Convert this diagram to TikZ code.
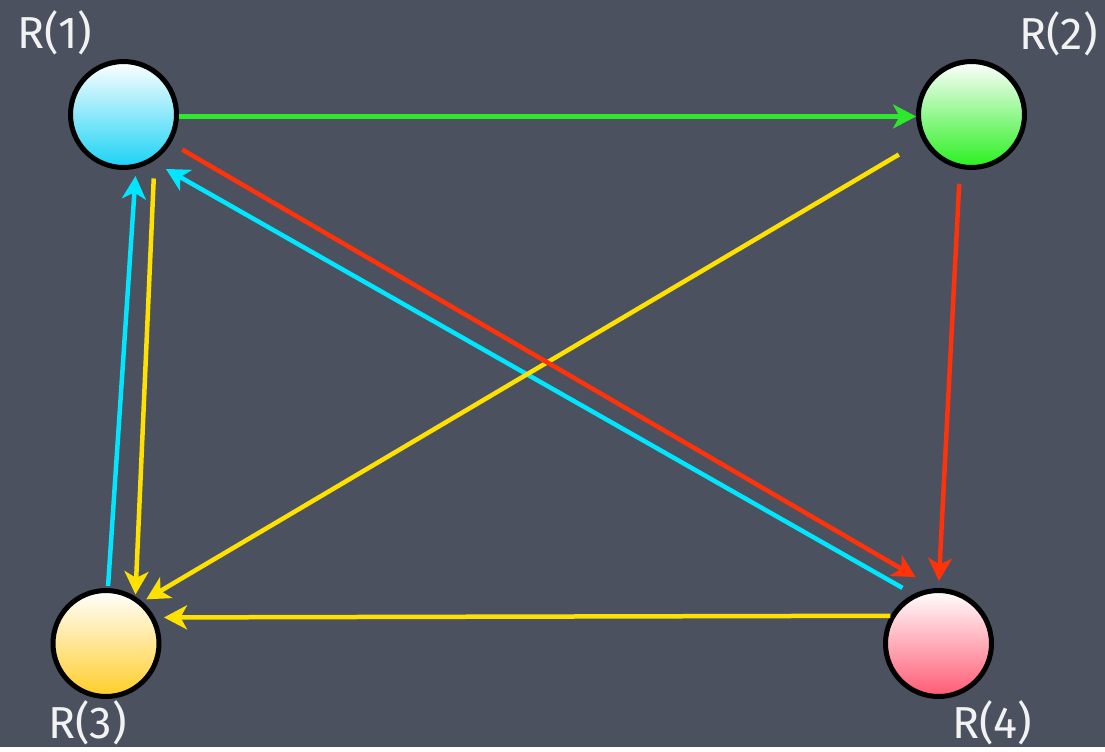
\documentclass[tikz,border=0pt]{standalone}
\usepackage{fontspec}
\setmainfont{Fira Sans}
\usetikzlibrary{arrows.meta}
\definecolor{board}{RGB}{76,81,95}
\definecolor{chalk}{RGB}{242,242,242}
\definecolor{linkG}{RGB}{45,232,45}
\definecolor{linkY}{RGB}{255,225,0}
\definecolor{linkR}{RGB}{255,50,10}
\definecolor{linkC}{RGB}{0,230,255}
\definecolor{routerA}{RGB}{25,210,245}
\definecolor{routerB}{RGB}{40,240,30}
\definecolor{routerC}{RGB}{255,205,40}
\definecolor{routerD}{RGB}{255,90,115}

\begin{document}
\begin{tikzpicture}[x=0.02cm, y=-0.02cm,
    router/.style={circle, draw=black, line width=0.1cm, minimum size=2.12cm, inner sep=0pt},
    tag/.style={text=chalk, font=\fontsize{25.5}{28}\selectfont},
    link/.style={line width=0.09cm, -{Stealth[length=4.6mm, width=4.8mm, inset=1.3mm]}}]

  % Chalkboard background
  \fill[board] (0,0) rectangle (1105,747);

  % Routers
  \node[router, top color=white, bottom color=routerA] (r1) at (123.5,114.5) {};
  \node[router, top color=white, bottom color=routerB] (r2) at (971.5,114.5) {};
  \node[router, top color=white, bottom color=routerC] (r3) at (106,643.5) {};
  \node[router, top color=white, bottom color=routerD] (r4) at (938.5,643.5) {};

  % Router names
  \node[tag] (t1) at (55,33) {R(1)};
  \node[tag] (t2) at (1058.5,34) {R(2)};
  \node[tag] (t3) at (87.5,723) {R(3)};
  \node[tag] (t4) at (992.5,722.5) {R(4)};

  % Cyan links
  \draw[link, linkC, shorten <=0.25cm, shorten >=0.3cm] (r4.117.4) -- (r1.-58);
  \draw[link, linkC, shorten <=0.04cm, shorten >=0.15cm] (r3.88.6) -- (r1.-77.5);

  % Yellow links
  \draw[link, linkY, shorten <=0.55cm, shorten >=0.09cm] (r2.208.5) -- (r3.49.5);
  \draw[link, linkY, shorten <=0.36cm, shorten >=0.04cm] (r1.-56.9) -- (r3.58.6);
  \draw[link, linkY, shorten >=0.18cm] (r4.150.9) -- (r3.28.5);

  % Red links
  \draw[link, linkR, shorten <=0.3cm, shorten >=0.14cm] (r2.258.9) -- (r4.90);
  \draw[link, linkR, shorten <=0.26cm, shorten >=0.44cm] (r1.-31.5) -- (r4.94.4);

  % Green link
  \draw[link, linkG] (r1.-2.6) -- (r2.182.6);

\end{tikzpicture}
\end{document}
